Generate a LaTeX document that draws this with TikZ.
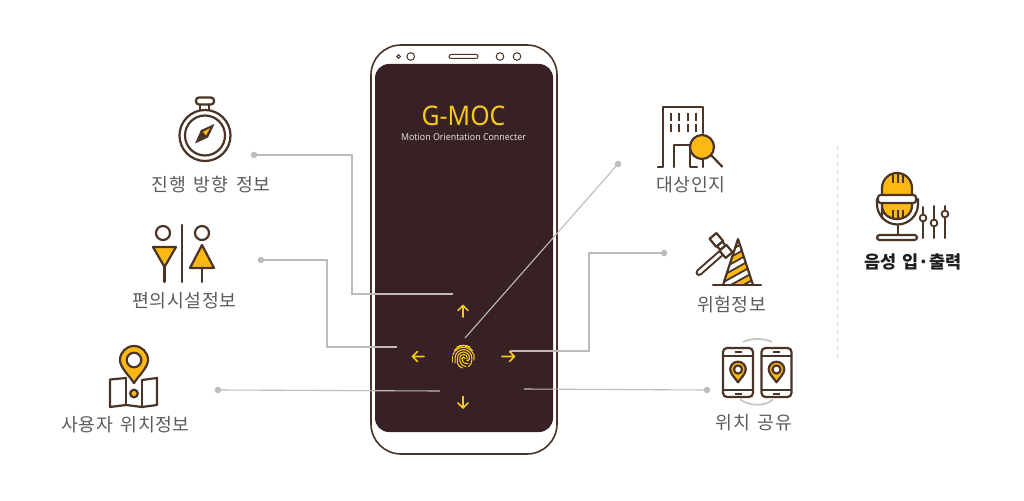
\documentclass[tikz,border=0pt]{standalone}
\usepackage{fontspec}
\setmainfont{Noto Sans}
\newfontfamily\krfont[LetterSpace=3,WordSpace=1.7]{Noto Sans CJK KR}
\newfontfamily\krbold[WordSpace=1.5]{Noto Sans CJK KR}
\definecolor{ink}{HTML}{4A3426}
\definecolor{gold}{HTML}{FDB913}
\definecolor{screenbg}{HTML}{382124}
\definecolor{lemon}{HTML}{F5C81E}
\definecolor{wire}{HTML}{BDBBBB}
\definecolor{labelc}{HTML}{5C5C5C}
\tikzset{
  x=1pt,y=-1pt,
  icon/.style={draw=ink,line width=2.2pt,line join=round,line cap=round},
  iconfill/.style={icon,fill=gold},
  wireline/.style={draw=wire,line width=1.1pt},
  wiredot/.style={circle,fill=wire,inner sep=0pt,minimum size=6.5pt},
  label/.style={font=\krfont\fontsize{18.3}{20}\selectfont,text=labelc,inner sep=0pt},
  nav/.style={draw=lemon,line width=1.6pt,line cap=round,line join=round},
  print/.style={draw=lemon,line width=1.1pt,line cap=round},
  mappin/.pic={
    \path[iconfill,pic actions] (0,#1*1.65) .. controls (-#1*.3,#1*1.15) and (-#1,#1*.55) .. (-#1,0)
      arc[start angle=180,end angle=360,radius=#1]
      .. controls (#1,#1*.55) and (#1*.3,#1*1.15) .. (0,#1*1.65) -- cycle;
    \path[icon,fill=white] (0,0) circle[radius=#1*.52];
  }
}
\begin{document}
\begin{tikzpicture}
\useasboundingbox[fill=white] (0,0) rectangle (1024,500);
% phone
\draw[draw=ink,line width=1.6pt,fill=white] (371,45) [rounded corners=30pt] -- (557,45) -- (557,454) -- (371,454) -- cycle;
\fill[screenbg,rounded corners=14pt] (375,64) rectangle (553,432);
\draw[draw=ink,line width=1pt] (398.7,56.5) circle[radius=1.8];
\draw[draw=ink,line width=1pt] (410.7,56.5) circle[radius=3.8];
\draw[draw=ink,line width=1pt,rounded corners=2pt] (449,54.5) rectangle (478,58.5);
\draw[draw=ink,line width=1pt] (500,56.5) circle[radius=3.8];
\draw[draw=ink,line width=1pt] (517,56.5) circle[radius=3.8];
\node[text=lemon,inner sep=0pt,xscale=.92,font=\fontsize{27}{30}\selectfont] (title) at (463.5,116) {G-MOC};
\node[text=white!85!screenbg,inner sep=0pt,xscale=.94,font=\fontsize{9.4}{11}\selectfont] (subtitle) at (463.5,137) {Motion Orientation Connecter};
% nav arrows
\draw[nav] (463,317) -- (463,305.5) (458,310.5) -- (463,305.5) -- (468,310.5);
\draw[nav] (424,356.5) -- (412.5,356.5) (417.5,351.5) -- (412.5,356.5) -- (417.5,361.5);
\draw[nav] (502,356.5) -- (514.5,356.5) (509.5,351.5) -- (514.5,356.5) -- (509.5,361.5);
\draw[nav] (463,396.5) -- (463,408) (458,403) -- (463,408) -- (468,403);
% fingerprint
\begin{scope}[shift={(463.5,357)}]
\draw[print] (-6.5,-10) arc[start angle=240,end angle=300,radius=13];
\draw[print] (-9,-6.5) arc[start angle=215,end angle=325,radius=11];
\draw[print] (-10.5,-2.5) arc[start angle=200,end angle=340,radius=11];
\draw[print] (-10.6,-1) -- (-10.6,5);
\draw[print] (-8.4,6) -- (-8.4,1) arc[start angle=180,end angle=360,radius=8.4] -- (8.4,3) .. controls (8.4,6) and (7,8) .. (5,9.5);
\draw[print] (-6,6.5) -- (-6,1) arc[start angle=180,end angle=360,radius=6] -- (6,2) .. controls (4.5,4.5) and (3.5,4) .. (3.2,3);
\draw[print] (-3.7,4) -- (-3.7,1) arc[start angle=180,end angle=360,radius=3.7] -- (3.7,1.5);
\draw[print] (-1.5,1.5) arc[start angle=180,end angle=360,radius=1.5];
\draw[print] (10.6,-2) -- (10.4,3);
\draw[print] (-6,6.5) .. controls (-5,9) and (-3,10.5) .. (-1,11);
\draw[print] (-3.7,4) .. controls (-3,7) and (-1,9) .. (2.5,9.5);
\draw[print] (-1.5,1.5) .. controls (-1.5,5) and (1,7) .. (4.5,6.5);
\end{scope}
% connector end points
\node[wiredot] (d1) at (254,155) {};
\node[wiredot] (d2) at (261,260) {};
\node[wiredot] (d3) at (218,390) {};
\node[wiredot] (d4) at (618,164) {};
\node[wiredot] (d5) at (664,253) {};
\node[wiredot] (d6) at (707,390) {};
\coordinate (e1) at (453,294);
\coordinate (e2) at (397,347);
\coordinate (e3) at (440,391);
\coordinate (e4) at (465,338);
\coordinate (e5) at (510,351);
\coordinate (e6) at (524,389);
\draw[wireline] (d1.center) -- (352,155) -- (352,294) -- (e1);
\draw[wireline] (d2.center) -- (327,260) -- (327,347) -- (e2);
\draw[wireline] (d3.center) -- (e3);
\draw[wireline] (d4.center) -- (e4);
\draw[wireline] (d5.center) -- (589,253) -- (589,351) -- (e5);
\draw[wireline] (d6.center) -- (e6);
% labels
\node[label] (l1) at (211,185) {진행 방향 정보};
\node[label] (l2) at (184.5,301) {편의시설정보};
\node[label] (l3) at (125.5,425) {사용자 위치정보};
\node[label] (l4) at (691,185) {대상인지};
\node[label] (l5) at (731.5,305) {위험정보};
\node[label] (l6) at (754,423) {위치 공유};
\node[inner sep=0pt,text=black!88,font=\krbold\bfseries\fontsize{17.5}{20}\selectfont] (l7) at (913,262) {음성 입·출력};
% compass
\draw[icon] (205,135.5) circle[radius=25.5];
\draw[icon] (205,135.5) circle[radius=20];
\draw[icon,rounded corners=3pt] (196,97.5) rectangle (214,104.5);
\draw[icon] (200,104.5) -- (200,110) (209,104.5) -- (209,110);
\fill[ink] (214.5,124) -- (208,137.5) -- (195,143.5) -- (201,130) -- cycle;
\fill[gold] (210,128) -- (206,135.5) -- (203,132) -- cycle;
% restroom
\draw[icon] (163,233) circle[radius=7];
\draw[icon] (202,233) circle[radius=7];
\draw[icon] (182,225) -- (182,282);
\draw[iconfill] (153,247) -- (176,247) -- (164.5,267) -- cycle;
\draw[iconfill] (202,245) -- (214,268) -- (190,268) -- cycle;
\draw[icon] (164.5,267) -- (164.5,282);
\draw[icon] (202,268) -- (202,282);
% map
\draw[icon] (126,378) -- (110,379.5) -- (110,407) -- (126,405) -- (142,407) -- (157,405) -- (157,378) -- (142,380);
\draw[icon] (126,378) -- (126,405) (142,380) -- (142,407);
\draw[iconfill] (134,393.5) circle[radius=3.8];
\pic at (134,360) {mappin=14};
% building
\draw[icon] (658,167) -- (663,167) -- (663,107) -- (703,107) -- (703,133);
\draw[icon] (674,167) -- (674,145) -- (690,145) -- (690,167) -- (697,167) (703,160) -- (703,167);
\foreach \wx in {671,679,688,696}{
  \draw[draw=ink,line width=2pt] (\wx,113) -- (\wx,121) (\wx,124) -- (\wx,132);
}
\draw[icon] (711,155) -- (722,166.5);
\draw[iconfill] (702,147) circle[radius=12];
% hammer and cone
\begin{scope}
\clip (738,239) -- (753,285) -- (723,285) -- cycle;
\fill[white] (720,235) rectangle (756,286);
\foreach \sy in {253,267,281}{
  \fill[gold] (720,\sy+10) -- (756,\sy-10) -- (756,\sy-3) -- (720,\sy+17) -- cycle;
}
\foreach \sy in {246,260,274,288}{
  \draw[draw=ink,line width=1.8pt] (720,\sy+10) -- (756,\sy-10);
  \draw[draw=ink,line width=1.8pt] (720,\sy+17) -- (756,\sy-3);
}
\end{scope}
\draw[icon] (738,239) -- (753,285) (738,239) -- (723,285);
\draw[icon] (713,285) -- (761,285);
\coordinate (h1) at (720,254);
\coordinate (h2) at (699,272.5);
\draw[draw=ink,line width=7pt,line cap=round] (h1) -- (h2);
\draw[draw=white,line width=3pt,line cap=round] (h1) -- (h2);
\begin{scope}[shift={(721,245.5)},rotate=-50]
\draw[icon,fill=white] (-12.5,-4.5) rectangle (-2,4.5);
\draw[icon,fill=white] (-2,-3.5) rectangle (3,3.5);
\draw[icon,fill=white] (3,-4.5) rectangle (12.5,4.5);
\end{scope}
% location sharing
\draw[draw=black!22,line width=1.8pt] (743,342) .. controls (750,338) and (765,338) .. (772,342);
\draw[draw=black!22,line width=1.8pt] (740,399.5) .. controls (750,406.5) and (765,406.5) .. (773,399.5);
\foreach \px/\pn in {738/a,776.5/b}{
  \draw[icon,rounded corners=4pt] (\px-15,348) rectangle (\px+15,397);
  \draw[draw=ink,line width=1.7pt] (\px-15,356) -- (\px+15,356) (\px-15,390) -- (\px+15,390);
  \draw[draw=ink,line width=1.5pt] (\px-3.5,351.8) -- (\px+3.5,351.8) (\px-3.5,393.8) -- (\px+3.5,393.8);
  \pic at (\px,369.5) {mappin=7.8};
}
% microphone
\draw[iconfill] (882,218) -- (882,188) arc[start angle=180,end angle=360,x radius=15,y radius=15] -- (912,205) .. controls (912,214) and (905,219) .. (897,219) .. controls (889,219) and (882,214) .. (882,205) -- cycle;
\draw[draw=ink,line width=1.8pt] (893,175) -- (893,183) (898,174) -- (898,183) (903,175) -- (903,183);
\draw[draw=ink,line width=1.8pt] (893,210) -- (893,218) (898,210) -- (898,219) (903,210) -- (903,218);
\draw[icon] (877,199) -- (877,204) arc[start angle=180,end angle=0,radius=20.5] -- (918,199);
\draw[icon,fill=white,rounded corners=2.5pt] (878,195) rectangle (916,203);
\draw[icon] (898,225) -- (898,235);
\draw[icon,rounded corners=2.5pt] (877,235) rectangle (917,240);
\draw[draw=ink,line width=2pt,line cap=round] (923,207) -- (923,238) (934,206) -- (934,238) (945,206) -- (945,238);
\draw[icon,fill=white,line width=1.8pt] (923,218) circle[radius=3.4];
\draw[icon,fill=white,line width=1.8pt] (934,223) circle[radius=3.4];
\draw[icon,fill=white,line width=1.8pt] (945,214) circle[radius=3.4];
% divider
\draw[draw=black!13,line width=1pt,dash pattern=on 5pt off 3pt] (837.5,145) -- (837.5,358);
\end{tikzpicture}
\end{document}
